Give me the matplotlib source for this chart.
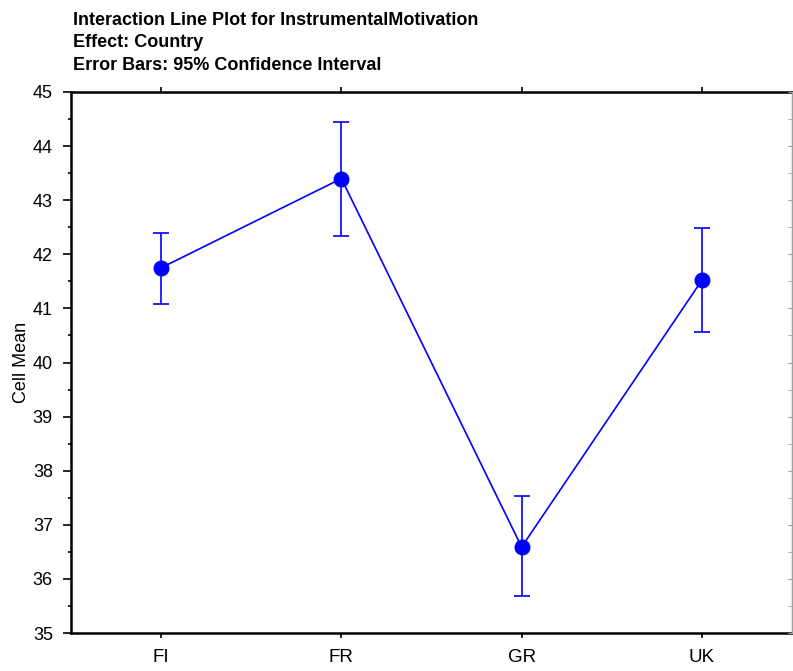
import matplotlib.pyplot as plt
import numpy as np
from matplotlib.ticker import MultipleLocator

plt.rcParams["font.family"] = ["Liberation Sans", "DejaVu Sans"]

countries = ["FI", "FR", "GR", "UK"]
cell_means = [41.75, 43.40, 36.59, 41.52]
ci_low = [41.09, 42.33, 35.68, 40.56]
ci_high = [42.39, 44.45, 37.53, 42.49]

title_lines = ["Interaction Line Plot for InstrumentalMotivation",
               "Effect: Country",
               "Error Bars: 95% Confidence Interval"]

x = np.arange(len(countries))
means = np.array(cell_means)
yerr = np.vstack([means - np.array(ci_low), np.array(ci_high) - means])

W, H = 793, 671
fig = plt.figure(figsize=(W / 100, H / 100), dpi=100)
ax = fig.add_axes([71 / W, 1 - 633 / H, 721 / W, 541 / H])

ax.errorbar(x, means, yerr=yerr, color="#0000ff", lw=1.2, marker="o", markersize=10.5,
            capsize=5.5, capthick=1.2, elinewidth=1.2)

ax.set_xlim(-0.5, 3.5)
ax.set_ylim(35, 45)
ax.set_xticks(x)
ax.set_xticklabels(countries)
ax.yaxis.set_major_locator(MultipleLocator(1))
ax.yaxis.set_minor_locator(MultipleLocator(0.5))
ax.tick_params(axis="y", which="major", labelsize=13, length=6, width=1.2, direction="out", pad=7)
ax.tick_params(axis="y", which="minor", length=2.5, width=1.2, direction="out")
ax.tick_params(axis="x", which="major", labelsize=13.5, length=3.5, width=1.2, direction="out",
               top=True, pad=8)
ax.set_ylabel("Cell Mean", fontsize=13)
ax.yaxis.set_label_coords((30 - 71) / 721, 0.5)

for side in ["left", "bottom", "top"]:
    ax.spines[side].set_linewidth(1.8)
ax.spines["right"].set_color("#a0a0a0")
ax.spines["right"].set_linewidth(1.0)

# gray inward ticks on the right edge
ax2 = ax.twinx()
ax2.set_ylim(ax.get_ylim())
ax2.yaxis.set_major_locator(MultipleLocator(1))
ax2.yaxis.set_minor_locator(MultipleLocator(0.5))
ax2.tick_params(axis="y", which="both", direction="in", length=3, color="#a0a0a0", labelright=False)
for side in ["left", "bottom", "top"]:
    ax2.spines[side].set_visible(False)
ax2.spines["right"].set_color("#a0a0a0")

for i, line in enumerate(title_lines):
    fig.text(73 / W, 1 - (20.7 + 22.2 * i) / H, line, fontsize=13, fontweight="bold",
             ha="left", va="center")

fig.savefig("out.png", dpi=100)
